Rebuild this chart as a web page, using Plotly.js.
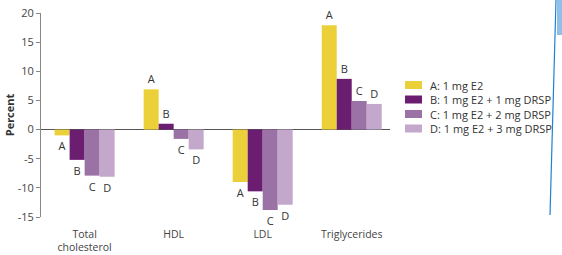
<!DOCTYPE html>
<html>
<head>
<meta charset="utf-8">
<script src="https://cdn.plot.ly/plotly-3.0.1.min.js"></script>
<style>html,body{margin:0;padding:0;background:#fff;}#chart{width:562px;height:255px;}</style>
</head>
<body>
<div id="chart"></div>
<script>
const categories = ['Total<br>cholesterol', 'HDL', 'LDL', 'Triglycerides'];
const seriesNames = ['A: 1 mg E2', 'B: 1 mg E2 + 1 mg DRSP', 'C: 1 mg E2 + 2 mg DRSP', 'D: 1 mg E2 + 3 mg DRSP'];
const seriesLetters = ['A', 'B', 'C', 'D'];
const valuesA = [-1.0, 6.9, -9.0, 17.9];
const valuesB = [-5.2, 1.0, -10.6, 8.7];
const valuesC = [-7.9, -1.6, -13.8, 4.9];
const valuesD = [-8.1, -3.4, -12.9, 4.4];
const yTicks = [-15, -10, -5, 0, 5, 10, 15, 20];

const colors = ['#ecd03a', '#6b1e70', '#9b72a5', '#c4a8cc'];
const allValues = [valuesA, valuesB, valuesC, valuesD];
const FONT = 'Open Sans, DejaVu Sans, sans-serif';

const traces = allValues.map((vals, i) => ({
  type: 'bar',
  name: seriesNames[i],
  x: categories,
  y: vals,
  marker: {color: colors[i], line: {width: 0}},
  text: vals.map(() => seriesLetters[i]),
  textposition: 'outside',
  constraintext: 'none',
  cliponaxis: false,
  textfont: {family: FONT, size: 11, color: '#333'},
  hoverinfo: 'none'
}));

// Legend (compact rows) built from series arrays
const W = 562, H = 255;
const ml = 41, mr = 172, mt = 13, mb = 38;
const pw = W - ml - mr, ph = H - mt - mb;
const px = x => (x - ml) / pw;
const py = y => (H - mb - y) / ph;
const legendShapes = [];
const legendAnnots = [];
seriesNames.forEach((name, i) => {
  const cy = 85 + i * 14.5;
  legendShapes.push({
    type: 'rect', xref: 'paper', yref: 'paper',
    x0: px(405), x1: px(422), y0: py(cy + 4), y1: py(cy - 4),
    fillcolor: colors[i], line: {width: 0}
  });
  legendAnnots.push({
    xref: 'paper', yref: 'paper', x: px(428), y: py(cy),
    xanchor: 'left', yanchor: 'middle', showarrow: false,
    text: name, font: {family: FONT, size: 11, color: '#333'}
  });
});

// decorative blue border line at right edge
legendShapes.push({
  type: 'line', xref: 'paper', yref: 'paper',
  x0: px(556), y0: py(0), x1: px(550), y1: py(215),
  line: {color: '#1f82d2', width: 1.2}
});
legendShapes.push({
  type: 'rect', xref: 'paper', yref: 'paper',
  x0: px(557), x1: px(562), y0: py(35), y1: py(0),
  fillcolor: '#8fc0e8', line: {width: 0}
});

const layout = {
  width: W, height: H,
  margin: {l: ml, r: mr, t: mt, b: mb},
  paper_bgcolor: '#fff', plot_bgcolor: '#fff',
  barmode: 'group',
  bargap: 0.326,
  bargroupgap: 0,
  showlegend: false,
  font: {family: FONT, size: 11, color: '#444'},
  xaxis: {
    type: 'category',
    range: [-0.49, 3.43],
    showline: false, showgrid: false, zeroline: false,
    ticks: '', ticklabelstandoff: 9,
    tickfont: {family: FONT, size: 10.5, color: '#444'},
    fixedrange: true
  },
  yaxis: {
    range: [-15, 20],
    tickvals: yTicks,
    ticktext: yTicks.map(String),
    showline: true, linecolor: '#888', linewidth: 1,
    ticks: 'outside', ticklen: 4, tickcolor: '#888', tickwidth: 1,
    showgrid: false,
    zeroline: true, zerolinecolor: '#555', zerolinewidth: 1,
    ticklabelstandoff: 0,
    tickfont: {family: FONT, size: 11, color: '#444'},
    title: {text: '<b>Percent</b>', standoff: 0, font: {family: FONT, size: 11, color: '#333'}},
    fixedrange: true
  },
  shapes: legendShapes,
  annotations: legendAnnots
};

Plotly.newPlot('chart', traces, layout, {displayModeBar: false, staticPlot: true});
</script>
</body>
</html>
